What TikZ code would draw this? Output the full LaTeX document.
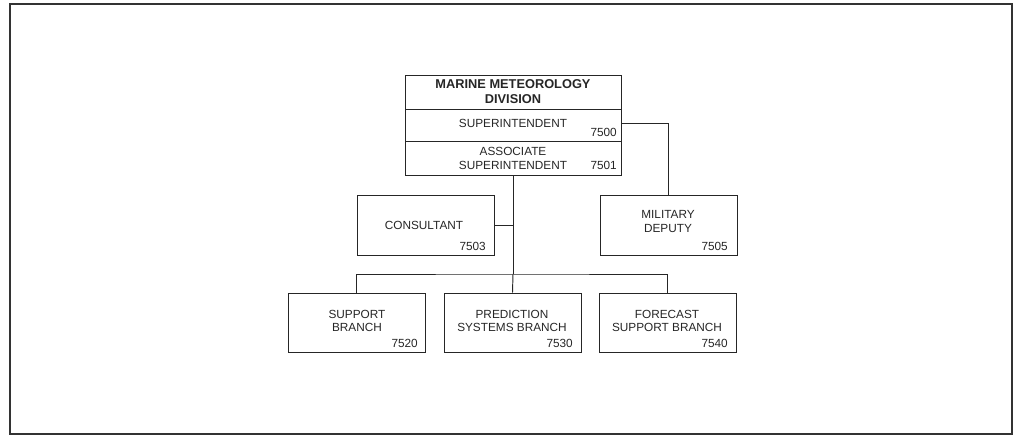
\documentclass[tikz,border=0pt]{standalone}
\usepackage{fontspec}
\setmainfont{Liberation Sans}
\begin{document}
\begin{tikzpicture}[x=1pt,y=-1pt,
  box/.style={draw=black!85, line width=0.95pt},
  wire/.style={draw=black!85, line width=0.95pt},
  lbl/.style={inner sep=0pt, font=\fontsize{11.8}{13.5}\selectfont, align=center, text=black!85},
  num/.style={inner sep=0pt, font=\fontsize{11.8}{13.5}\selectfont, anchor=east, text=black!85},
  ttl/.style={inner sep=0pt, font=\bfseries\fontsize{12.8}{15}\selectfont, align=center, text=black!85}]
\useasboundingbox (0,0) rectangle (1017,437);
% outer frame
\draw[line width=1.3pt, draw=black!80] (10,4) rectangle (1012,434);

% division header block
\draw[box] (405,75) rectangle (621,175);
\draw[box] (405,109) -- (621,109);
\draw[box] (405,141) -- (621,141);
\coordinate (sup) at (621,123);
\coordinate (assoc) at (513,175);
\node[ttl] (title) at (513,92) {MARINE METEOROLOGY\\DIVISION};
\node[lbl] (suptext) at (513,123) {SUPERINTENDENT};
\node[num] (n7500) at (617,132.5) {7500};
\node[lbl] (assoctext) at (513,158.5) {ASSOCIATE\\SUPERINTENDENT};
\node[num] (n7501) at (617,165) {7501};

% staff boxes
\node[box, minimum width=137pt, minimum height=60pt] (cons) at (425.5,225) {};
\node[lbl] at (424,225) {CONSULTANT};
\node[num] at (486,246) {7503};

\node[box, minimum width=137pt, minimum height=60pt] (mil) at (668.5,225) {};
\node[lbl] at (668,221.5) {MILITARY\\DEPUTY};
\node[num] at (728,246) {7505};

% branches
\node[box, minimum width=137pt, minimum height=59pt] (sb) at (356.5,322.5) {};
\node[lbl] at (357,321) {SUPPORT\\BRANCH};
\node[num] at (418,343) {7520};

\node[box, minimum width=137pt, minimum height=59pt] (psb) at (512.5,322.5) {};
\node[lbl] at (512,321) {PREDICTION\\SYSTEMS BRANCH};
\node[num] at (573,343) {7530};

\node[box, minimum width=137pt, minimum height=59pt] (fsb) at (667.5,322.5) {};
\node[lbl] at (667,321) {FORECAST\\SUPPORT BRANCH};
\node[num] at (728,343) {7540};

% connectors
\coordinate (bus) at (513,274);
\draw[wire] (sup) -- (668,123) -- (mil.north -| 668,0);
\draw[wire] (assoc) -- (bus);
\draw[wire] (cons.east) -- (cons.east -| assoc);
\draw[wire] (sb.north) |- (bus) -| (fsb.north);
\draw[wire] (bus) -- (psb.north);
\end{tikzpicture}
\end{document}
